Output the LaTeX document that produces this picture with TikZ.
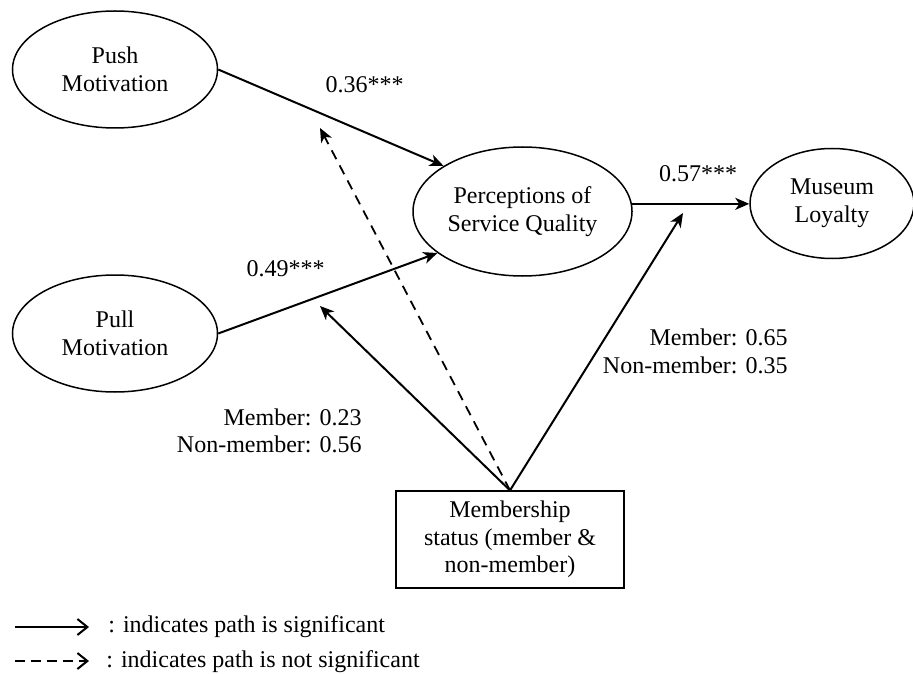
\documentclass[tikz,border=0pt]{standalone}
\usepackage{fontspec}
\setmainfont{Liberation Serif}
\usetikzlibrary{shapes.geometric,arrows.meta}
\begin{document}
\begin{tikzpicture}[x=0.5pt,y=-0.5pt,
	font=\fontsize{12pt}{13.8pt}\selectfont,
	latent/.style={draw,ellipse,line width=.75pt,align=center,inner sep=0pt},
	sigline/.style={line width=1pt,-{Stealth[length=7pt,width=6pt,inset=2pt]}},
	nsline/.style={line width=.9pt,dash pattern=on 5pt off 3.5pt,-{Stealth[length=7pt,width=6pt,inset=2pt]}},
	coef/.style={inner sep=0pt,align=right}]
		\useasboundingbox (0,0) rectangle (913,673);
		
		\node[latent,minimum width=102.5pt,minimum height=58.5pt] (push) at (115,69.5) {Push\\Motivation};
		\node[latent,minimum width=102.5pt,minimum height=58.5pt] (pull) at (115,333.5) {Pull\\Motivation};
		\node[latent,minimum width=109.5pt,minimum height=64.5pt] (perc) at (522.5,211.5) {Perceptions of\\Service Quality};
		\node[latent,minimum width=82pt,minimum height=55pt] (loyal) at (832,203.5) {Museum\\Loyalty};
		\node[draw,line width=.6pt,minimum width=114pt,minimum height=48.5pt,align=center] (member) at (510,539.5) {Membership\\status (member \&\\non-member)};
		
		\coordinate (mPush) at (320,128);
		\coordinate (mPull) at (320,306);
		\coordinate (mLoyal) at (683,213);
		
		\draw[sigline] (push.east)--(perc.150);
		\draw[sigline] (pull.east)--(perc.206);
		\draw[sigline] (perc.4)--(perc.4 -| loyal.west);
		\draw[sigline] (member.north)--(mLoyal);
		\draw[sigline] (member.north)--(mPull);
		\draw[nsline] (member.north)--(mPush);
		
		\node (b1) at (364.5,85) {0.36***};
		\node (b2) at (285.5,269) {0.49***};
		\node (b3) at (698,174) {0.57***};
		\node[coef,anchor=east] (mod1) at (362,431) {Member: 0.23\\Non-member: 0.56};
		\node[coef,anchor=east] (mod2) at (788,351.5) {Member: 0.65\\Non-member: 0.35};
		
		% legend
		\coordinate (lg1a) at (15,627); \coordinate (lg1b) at (89,627);
		\coordinate (lg2a) at (15,661); \coordinate (lg2b) at (89,661);
		\draw[line width=1pt,-{Straight Barb[length=5pt,width=8pt]}] (lg1a)--(lg1b);
		\draw[line width=1pt,dash pattern=on 5pt off 3pt,-{Straight Barb[length=5pt,width=8pt]}] (lg2a)--(lg2b);
		\node[anchor=base west,inner sep=0pt] (lg1) at (108,632) {: indicates path is significant};
		\node[anchor=base west,inner sep=0pt] (lg2) at (106,667) {: indicates path is not significant};
\end{tikzpicture}
\end{document}
